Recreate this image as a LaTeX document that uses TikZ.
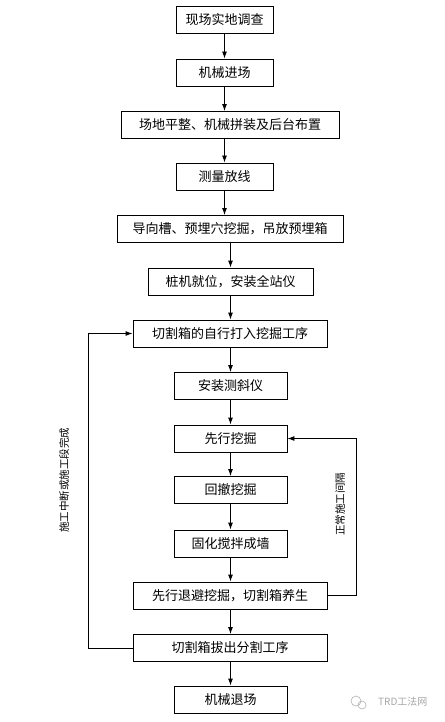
\documentclass[tikz,border=0pt]{standalone}
\usepackage{fontspec}
\setmainfont{Noto Sans CJK SC}
\usetikzlibrary{arrows.meta}
\begin{document}
\begin{tikzpicture}[x=1pt,y=-1pt,
  box/.style={draw,line width=0.9pt,minimum height=27pt,inner sep=0pt,font=\fontsize{13}{13}\selectfont},
  conn/.style={line width=0.9pt,-{Latex[length=7pt,width=5pt]}},
  side/.style={rotate=90,font=\fontsize{10.5}{10.5}\selectfont,inner sep=0pt},
  wm/.style={text=black!35,font=\fontsize{10}{10}\selectfont,inner sep=0pt}]
\useasboundingbox (0,0) rectangle (444,722);
\node[box,minimum width=97pt]  (b1)  at (224.5,20)    {现场实地调查};
\node[box,minimum width=97pt]  (b2)  at (224.5,72.5)  {机械进场};
\node[box,minimum width=218pt] (b3)  at (230,125)     {场地平整、机械拼装及后台布置};
\node[box,minimum width=97pt]  (b4)  at (224.5,176.5) {测量放线};
\node[box,minimum width=226pt] (b5)  at (230,229)     {导向槽、预埋穴挖掘，吊放预埋箱};
\node[box,minimum width=165pt] (b6)  at (230.5,281.5) {桩机就位，安装全站仪};
\node[box,minimum width=194pt] (b7)  at (230,333.5)   {切割箱的自行打入挖掘工序};
\node[box,minimum width=113pt] (b8)  at (230.5,386)   {安装测斜仪};
\node[box,minimum width=113pt] (b9)  at (230.5,438.5) {先行挖掘};
\node[box,minimum width=113pt] (b10) at (230.5,490)   {回撤挖掘};
\node[box,minimum width=113pt] (b11) at (230.5,543.5) {固化搅拌成墙};
\node[box,minimum width=194pt] (b12) at (230,595.5)   {先行退避挖掘，切割箱养生};
\node[box,minimum width=194pt] (b13) at (230,648)     {切割箱拔出分割工序};
\node[box,minimum width=113pt] (b14) at (230.5,699.5) {机械退场};
\draw[conn] (b1.south -| 224.5,0) -- (b2.north -| 224.5,0);
\draw[conn] (b2.south -| 224.5,0) -- (b3.north -| 224.5,0);
\draw[conn] (b3.south -| 224.5,0) -- (b4.north -| 224.5,0);
\draw[conn] (b4.south -| 224.5,0) -- (b5.north -| 224.5,0);
\draw[conn] (b5.south -| 230.5,0) -- (b6.north -| 230.5,0);
\draw[conn] (b6.south -| 230.5,0) -- (b7.north -| 230.5,0);
\draw[conn] (b7.south -| 230.5,0) -- (b8.north -| 230.5,0);
\draw[conn] (b8) -- (b9);
\draw[conn] (b9) -- (b10);
\draw[conn] (b10) -- (b11);
\draw[conn] (b11.south) -- (b12.north -| b11.south);
\draw[conn] (b12.south -| b11.south) -- (b13.north -| b11.south);
\draw[conn] (b13.south -| b14.north) -- (b14.north);
\coordinate (lt) at (88,333.5);
\coordinate (lb) at (88,648);
\coordinate (rt) at (356,438.5);
\coordinate (rb) at (356,595.5);
\draw[conn] (b13.west) -- (lb) -- (lt) -- (b7.west);
\draw[conn] (b12.east) -- (rb) -- (rt) -- (b9.east);
\node[side] (lab1) at (64,480) {施工中断或施工段完成};
\node[side] (lab2) at (340,504) {正常施工间隔};
\node[wm,anchor=west] (wmt) at (378,702) {TRD工法网};
\draw[black!30,line width=0.6pt] (356,701) circle (5pt);
\draw[black!30,line width=0.6pt] (362,705) circle (4pt);
\end{tikzpicture}
\end{document}
